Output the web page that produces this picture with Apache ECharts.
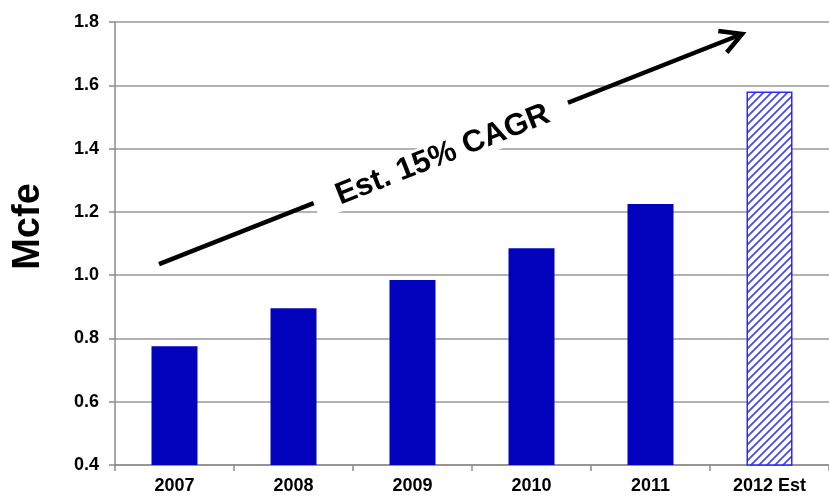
<!DOCTYPE html>
<html><head><meta charset="utf-8">
<script src="https://cdn.jsdelivr.net/npm/echarts@6/dist/echarts.min.js"></script>
<style>html,body{margin:0;padding:0;background:#fff}#c{width:829px;height:496px}</style>
</head><body><div id="c"></div>
<script>
const categories = ['2007','2008','2009','2010','2011','2012 Est'];
const values = [0.775, 0.895, 0.985, 1.085, 1.225, 1.58];
const estimated = [false, false, false, false, false, true];
const yTicks = {min: 0.4, max: 1.8, interval: 0.2};
const annotationText = 'Est. 15% CAGR';
// arrow endpoints in data space: [category index, value]
const arrowStart = [-0.13, 1.035];
const arrowEnd = [4.77, 1.762];

const pc = document.createElement('canvas');
pc.width = 8; pc.height = 8;
const g = pc.getContext('2d');
g.fillStyle = '#fff'; g.fillRect(0,0,8,8);
g.strokeStyle = '#4a4ae6'; g.lineWidth = 1.8;
g.beginPath();
g.moveTo(-2,10); g.lineTo(10,-2);
g.moveTo(-2,2); g.lineTo(2,-2);
g.moveTo(6,10); g.lineTo(10,6);
g.stroke();

const font = 'Liberation Sans, Arial, sans-serif';
const chart = echarts.init(document.getElementById('c'));
chart.setOption({
  animation: false,
  grid: {left: 115, right: 0, top: 22, bottom: 31},
  xAxis: {
    type: 'category', data: categories,
    axisLine: {lineStyle: {color: '#8c8c8c', width: 1.5}},
    axisTick: {show: true, length: 6, lineStyle: {color: '#8c8c8c', width: 1.5}},
    axisLabel: {color: '#000', fontWeight: 'bold', fontSize: 18, fontFamily: font, margin: 12}
  },
  yAxis: {
    type: 'value', min: yTicks.min, max: yTicks.max, interval: yTicks.interval,
    name: 'Mcfe', nameLocation: 'middle', nameGap: 67,
    nameTextStyle: {color: '#000', fontWeight: 'bold', fontSize: 38, fontFamily: font, padding: [0, 0, 0, 34]},
    axisLine: {show: true, lineStyle: {color: '#8c8c8c', width: 1.5}},
    axisTick: {show: true, length: 6, lineStyle: {color: '#8c8c8c', width: 1.5}},
    axisLabel: {color: '#000', fontWeight: 'bold', fontSize: 18, fontFamily: font, margin: 16,
      formatter: v => v.toFixed(1)},
    splitLine: {lineStyle: {color: '#999', width: 1.5}}
  },
  series: [{
    type: 'bar', barWidth: 46,
    data: values.map((v, i) => estimated[i]
      ? {value: v, itemStyle: {color: {image: pc, repeat: 'repeat'}, borderColor: '#2a2af0', borderWidth: 1.5}}
      : {value: v, itemStyle: {color: '#0303BE'}})
  }]
});

function toPx(p) {
  const a = chart.convertToPixel({gridIndex: 0}, [0, p[1]]);
  const b = chart.convertToPixel({gridIndex: 0}, [1, p[1]]);
  return [a[0] + (b[0] - a[0]) * p[0], a[1]];
}
const s = toPx(arrowStart), e = toPx(arrowEnd);
const ang = Math.atan2(e[1] - s[1], e[0] - s[0]);
const hl = 24, ha = 0.5;
const h1 = [e[0] - hl * Math.cos(ang - ha), e[1] - hl * Math.sin(ang - ha)];
const h2 = [e[0] - hl * Math.cos(ang + ha), e[1] - hl * Math.sin(ang + ha)];
const t = 0.485;
const tc = [s[0] + (e[0] - s[0]) * t, s[1] + (e[1] - s[1]) * t + 3];
chart.setOption({
  graphic: [
    {type: 'line', shape: {x1: s[0], y1: s[1], x2: e[0], y2: e[1]}, style: {stroke: '#000', lineWidth: 4.5}, z: 10},
    {type: 'polyline', shape: {points: [h1, e, h2]}, style: {stroke: '#000', lineWidth: 4.5, fill: null, lineJoin: 'miter'}, z: 10},
    {type: 'text', x: tc[0], y: tc[1], rotation: -ang, z: 11,
      style: {text: annotationText, font: 'bold 31px ' + font, fill: '#000', align: 'center', verticalAlign: 'middle',
        backgroundColor: '#fff', padding: [0, 22, 0, 24]}}
  ]
});
</script></body></html>
